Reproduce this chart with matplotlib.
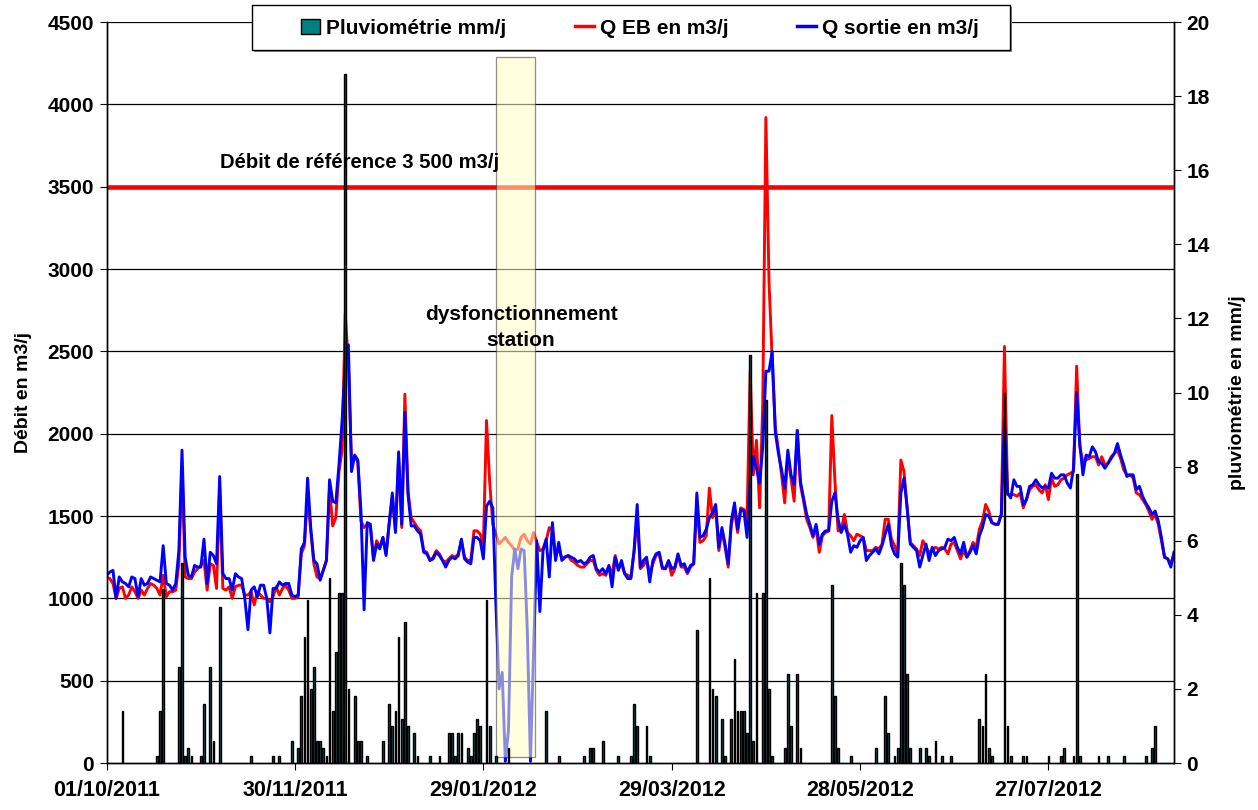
import pandas as pd
import numpy as np
import matplotlib.pyplot as plt
import matplotlib.dates as mdates
from matplotlib.patches import Patch, Rectangle
from matplotlib.lines import Line2D

# =========================
# DATA (daily, from 01/10/2011)
# =========================

START = "2011-10-01"

q_sortie = [
    1140, 1160, 1170, 1000, 1130, 1100, 1090, 1070, 1130, 1120,
    1010, 1120, 1080, 1090, 1130, 1120, 1110, 1100, 1320, 1090,
    1080, 1050, 1090, 1290, 1900, 1250, 1140, 1130, 1200, 1190,
    1190, 1360, 1090, 1280, 1260, 1210, 1740, 1150, 1120, 1120,
    1050, 1150, 1130, 1120, 1000, 810, 1050, 1070, 1010, 1080,
    1080, 1000, 790, 1060, 1060, 1100, 1080, 1090, 1090, 1020,
    1010, 1020, 1300, 1340, 1730, 1430, 1230, 1210, 1110, 1170,
    1230, 1720, 1590, 1580, 1810, 2080, 2440, 2540, 1770, 1870,
    1840, 1530, 930, 1460, 1450, 1230, 1330, 1300, 1370, 1260,
    1460, 1640, 1400, 1890, 1450, 2130, 1630, 1440, 1440, 1410,
    1390, 1280, 1270, 1230, 1240, 1280, 1260, 1230, 1190, 1230,
    1250, 1240, 1260, 1360, 1240, 1220, 1210, 1370, 1370, 1350,
    1240, 1560, 1590, 1550, 960, 450, 550, 10, 200, 1130,
    1300, 1180, 1300, 1290, 800, 10, 680, 1350, 920, 1290,
    1360, 1130, 1460, 1230, 1340, 1230, 1250, 1260, 1250, 1240,
    1220, 1230, 1210, 1220, 1250, 1260, 1180, 1160, 1180, 1150,
    1200, 1070, 1250, 1170, 1230, 1150, 1120, 1120, 1290, 1570,
    1190, 1230, 1250, 1100, 1230, 1270, 1280, 1190, 1180, 1230,
    1180, 1190, 1270, 1200, 1210, 1160, 1200, 1210, 1640, 1370,
    1380, 1420, 1490, 1520, 1570, 1310, 1430, 1330, 1210, 1470,
    1580, 1420, 1540, 1530, 1370, 1720, 1860, 1790, 1700, 1920,
    2380, 2380, 2500, 2010, 1880, 1780, 1670, 1900, 1750, 1690,
    2020, 1710, 1610, 1510, 1450, 1380, 1450, 1330, 1390, 1410,
    1410, 1590, 1640, 1480, 1400, 1450, 1390, 1280, 1320, 1310,
    1350, 1370, 1230, 1260, 1280, 1300, 1270, 1320, 1390, 1450,
    1320, 1270, 1250, 1640, 1730, 1550, 1330, 1310, 1290, 1190,
    1260, 1330, 1230, 1310, 1260, 1290, 1300, 1310, 1360, 1350,
    1370, 1310, 1270, 1340, 1250, 1280, 1320, 1270, 1380, 1430,
    1510, 1500, 1460, 1450, 1450, 1510, 2080, 1640, 1610, 1720,
    1680, 1680, 1570, 1600, 1680, 1690, 1720, 1690, 1670, 1680,
    1670, 1760, 1730, 1730, 1750, 1750, 1700, 1670, 1790, 2250,
    1940, 1750, 1870, 1860, 1920, 1890, 1830, 1820, 1790, 1820,
    1850, 1880, 1940, 1870, 1810, 1740, 1750, 1750, 1660, 1680,
    1620, 1580, 1550, 1510, 1530, 1470, 1370, 1250, 1240, 1190,
    1280,
]

q_eb = [
    1130, 1120, 1090, 1000, 1060, 1070, 1000, 1020, 1070, 1040,
    1000, 1050, 1020, 1060, 1090, 1080, 1060, 1020, 1140, 1010,
    1040, 1040, 1050, 1210, 1800, 1130, 1120, 1120, 1160, 1180,
    1200, 1230, 1050, 1210, 1200, 1060, 1670, 1060, 1050, 1070,
    1000, 1070, 1080, 1080, 1020, 1020, 1040, 960, 1040, 1020,
    1000, 1000, 980, 1010, 1070, 1020, 1060, 1080, 1050, 1000,
    1000, 1010, 1270, 1320, 1630, 1410, 1210, 1130, 1120, 1170,
    1230, 1670, 1440, 1490, 1770, 1900, 2730, 2420, 1830, 1860,
    1830, 1470, 1430, 1450, 1430, 1250, 1350, 1310, 1370, 1270,
    1450, 1610, 1410, 1850, 1430, 2240, 1650, 1490, 1460, 1430,
    1410, 1290, 1280, 1230, 1250, 1290, 1270, 1230, 1220, 1240,
    1260, 1250, 1270, 1350, 1250, 1230, 1230, 1410, 1410, 1390,
    1330, 2080, 1710, 1450, 1390, 1330, 1350, 1370, 1340, 1320,
    1290, 1300, 1370, 1390, 1350, 1330, 1400, 1340, 1290, 1300,
    1350, 1430, 1410, 1250, 1310, 1240, 1250, 1260, 1230, 1220,
    1200, 1190, 1190, 1210, 1230, 1230, 1170, 1140, 1150, 1140,
    1190, 1150, 1260, 1180, 1210, 1150, 1140, 1130, 1280, 1490,
    1180, 1200, 1230, 1150, 1210, 1260, 1270, 1180, 1180, 1220,
    1140, 1180, 1260, 1190, 1190, 1150, 1190, 1210, 1570, 1340,
    1350, 1380, 1670, 1490, 1550, 1290, 1410, 1310, 1190, 1450,
    1530, 1400, 1550, 1540, 1490, 2380, 1750, 1960, 1550, 2180,
    3920, 2920, 2450, 2040, 1900, 1750, 1580, 1870, 1730, 1590,
    2020, 1690, 1590, 1480, 1430, 1370, 1430, 1280, 1380, 1400,
    1410, 2110, 1710, 1410, 1410, 1510, 1400, 1380, 1350, 1390,
    1380, 1370, 1290, 1290, 1290, 1310, 1300, 1330, 1480, 1480,
    1360, 1320, 1270, 1840, 1770, 1550, 1340, 1320, 1300, 1260,
    1350, 1310, 1280, 1290, 1310, 1300, 1310, 1300, 1270, 1330,
    1340, 1290, 1240, 1290, 1250, 1290, 1340, 1310, 1420, 1470,
    1570, 1530, 1460, 1450, 1450, 1510, 2530, 1630, 1630, 1630,
    1620, 1640, 1550, 1600, 1660, 1680, 1690, 1660, 1640, 1690,
    1600, 1730, 1680, 1690, 1720, 1730, 1750, 1760, 1770, 2410,
    1920, 1830, 1840, 1850, 1860, 1860, 1810, 1860, 1810, 1820,
    1860, 1880, 1900, 1850, 1780, 1750, 1750, 1730, 1640, 1630,
    1600, 1570, 1530, 1480, 1510, 1450, 1350, 1250, 1240, 1210,
    1270,
]

# rainfall: day offset from 01/10/2011 and mm/j
rain_day = [
    5, 16, 17, 18, 23, 24, 25, 26, 27, 30, 31, 33, 34, 36, 46, 53, 55,
    59, 61, 62, 63, 64, 65, 66, 67, 68, 69, 70, 71, 72, 73, 74, 75, 76,
    77, 79, 80, 81, 83, 88, 90, 91, 92, 93, 94, 95, 96, 98, 99, 103,
    106, 109, 110, 111, 112, 113, 115, 116, 117, 118, 119, 121, 122,
    124, 128, 140, 144, 152, 154, 155, 158, 163, 167, 168, 169, 172,
    173, 188, 192, 193, 194, 196, 197, 199, 200, 201, 202, 203, 204,
    205, 206, 207, 209, 210, 211, 212, 216, 217, 218, 220, 221, 231,
    232, 233, 237, 245, 248, 249, 251, 252, 253, 254, 255, 256, 259,
    261, 262, 264, 266, 269, 278, 279, 280, 281, 282, 286, 287, 288,
    292, 293, 300, 304, 305, 308, 309, 310, 316, 319, 324, 331, 333,
    334,
]
rain_mm = [
    1.4, 0.2, 1.4, 4.7, 2.6, 5.4, 0.2, 0.4, 0.2, 0.2, 1.6, 2.6, 0.6, 4.2, 0.2, 0.2, 0.2,
    0.6, 0.4, 1.8, 3.4, 4.4, 2.0, 2.6, 0.6, 0.6, 0.4, 0.2, 5.0, 1.4, 3.0, 4.6, 4.6, 18.6,
    2.0, 1.8, 0.6, 0.6, 0.2, 0.6, 1.6, 1.0, 1.4, 3.4, 1.2, 3.8, 1.0, 0.8, 0.2, 0.2,
    0.2, 0.8, 0.8, 0.2, 0.8, 0.8, 0.4, 0.2, 0.8, 1.2, 1.0, 4.4, 1.0,
    0.2, 0.4, 1.4, 0.2, 0.2, 0.4, 0.4, 0.6, 0.2, 0.2, 1.6, 1.0, 1.0,
    0.2, 3.6, 5.0, 2.0, 1.8, 1.2, 0.2, 1.2, 2.8, 1.4, 1.4, 1.4, 0.8,
    11.0, 0.6, 4.6, 4.6, 9.8, 2.0, 0.2, 0.4, 2.4, 1.0, 2.4, 0.4, 4.8,
    1.8, 0.4, 0.2, 0.4, 1.8, 0.8, 0.2, 0.4, 5.4, 4.8, 2.4, 0.4, 0.4,
    0.4, 0.2, 0.6, 0.2, 0.2, 1.2, 1.0, 2.4, 0.4, 0.2, 10.0, 1.0, 0.2,
    0.2, 0.2, 0.2, 0.2, 0.4, 0.2, 7.8, 0.2, 0.2, 0.2, 0.2, 0.2, 0.4,
    1.0,
]

DEBIT_REF = 3500
tick_dates = ["2011-10-01", "2011-11-30", "2012-01-29",
              "2012-03-29", "2012-05-28", "2012-07-27"]

# =========================
# PLOT
# =========================

plt.rcParams["font.family"] = ["Liberation Sans", "DejaVu Sans"]
plt.rcParams["font.weight"] = "bold"
plt.rcParams["axes.labelweight"] = "bold"

dates = pd.date_range(START, periods=len(q_sortie), freq="D")
rain_dates = pd.to_datetime(START) + pd.to_timedelta(rain_day, unit="D")

fig = plt.figure(figsize=(12.58, 8.10), dpi=100)
ax1 = fig.add_axes([0.0848, 0.058, 0.8484, 0.9148])
ax2 = ax1.twinx()

# grid
for v in range(500, 4501, 500):
    ax1.axhline(v, color="black", lw=0.9, zorder=0)

ax1.plot(dates, q_eb, color="#ff0000", lw=2.1, zorder=3)
ax1.plot(dates, q_sortie, color="#0000ff", lw=2.1, zorder=4)
ax1.axhline(DEBIT_REF, color="#ff0000", lw=3.3, zorder=5)

ax1.set_ylim(0, 4500)
ax1.set_yticks(range(0, 4501, 500))
ax1.set_ylabel("Débit en m3/j", fontsize=14, labelpad=11)

x0 = pd.Timestamp(START)
ax1.set_xlim(x0, x0 + pd.Timedelta(days=340))
ax1.set_xticks(pd.to_datetime(tick_dates))
ax1.xaxis.set_major_formatter(mdates.DateFormatter("%d/%m/%Y"))
ax1.tick_params(axis="x", labelsize=15.5, length=5, direction="out", pad=7)
ax1.tick_params(axis="y", labelsize=15, length=5, direction="out", pad=4)

# rainfall on secondary axis
ax2.bar(rain_dates, rain_mm, width=0.55, color="#1c4a4a", edgecolor="black",
        lw=1.0, zorder=3)

# dysfunction zone (over the lines)
bx0 = mdates.date2num(x0 + pd.Timedelta(days=124.1))
bx1 = mdates.date2num(x0 + pd.Timedelta(days=136.5))
ax2.add_patch(Rectangle((bx0, 0.15), bx1 - bx0, 18.9, facecolor="#ffffc8",
                        edgecolor="#333333", lw=0.9, alpha=0.55, zorder=2))

ax2.text(pd.Timestamp("2012-02-10"), 11.75, "dysfonctionnement\nstation",
         fontsize=15, fontweight="bold", va="center", ha="center",
         linespacing=1.45, zorder=6)
ax2.text(pd.Timestamp("2011-11-06"), 16.2, "Débit de référence 3 500 m3/j",
         fontsize=14.6, fontweight="bold", va="center", ha="left", zorder=6)

ax2.set_ylim(0, 20)
ax2.set_yticks(range(0, 21, 2))
ax2.set_ylabel("pluviométrie en mm/j", fontsize=14, labelpad=14)
ax2.tick_params(axis="y", labelsize=15, length=5, direction="out", pad=4)

for ax in (ax1, ax2):
    for s in ax.spines.values():
        s.set_color("black")
        s.set_linewidth(1.0)
    ax.spines["top"].set_visible(False)

# legend box (drawn by hand to match the wide frame)
fig.patches.append(Rectangle((254 / 1258, 1 - 52 / 810), 758 / 1258, 45 / 810,
                             transform=fig.transFigure, facecolor="#888888",
                             edgecolor="none", zorder=9))
fig.patches.append(Rectangle((252 / 1258, 1 - 50 / 810), 758 / 1258, 45 / 810,
                             transform=fig.transFigure, facecolor="white",
                             edgecolor="black", lw=1.0, zorder=10))

handles = [
    Patch(facecolor="#008080", edgecolor="black", label="Pluviométrie mm/j"),
    Line2D([], [], color="#ff0000", lw=2.5, label="Q EB en m3/j"),
    Line2D([], [], color="#0000ff", lw=2.5, label="Q sortie en m3/j"),
]
leg = fig.legend(handles=handles, loc="center", ncol=3,
                 bbox_to_anchor=(640 / 1258, 1 - 28 / 810),
                 fontsize=15, frameon=False, columnspacing=3.3,
                 handlelength=0.9, handleheight=0.75, handletextpad=0.3)
leg.set_zorder(11)

fig.savefig("out.png", dpi=100)
